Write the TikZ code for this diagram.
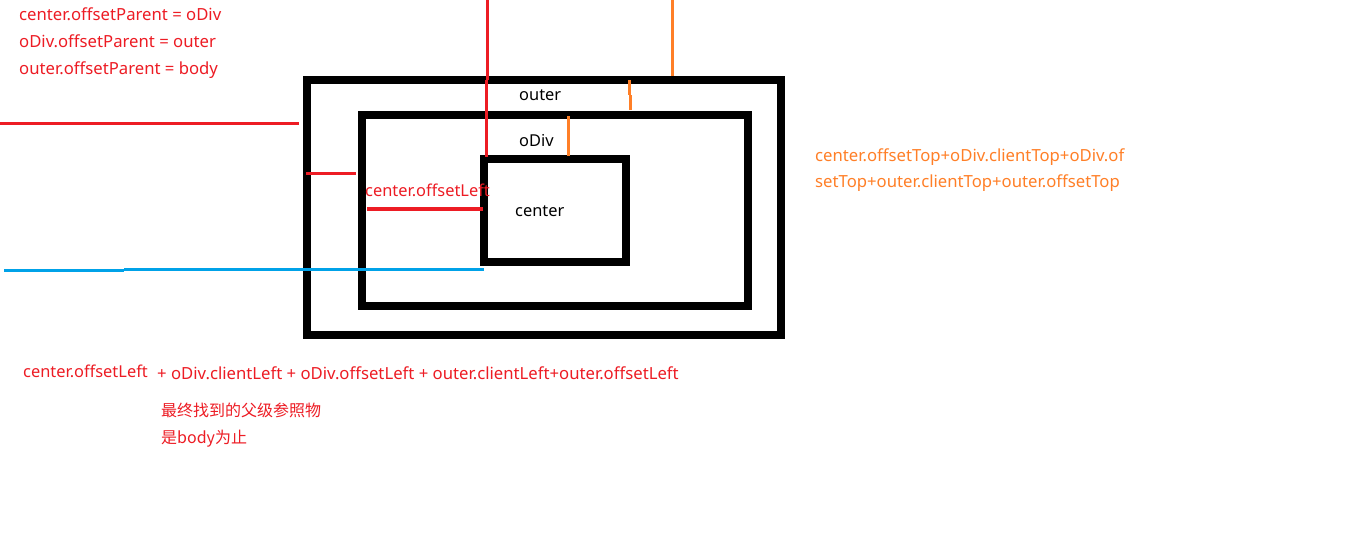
\documentclass[tikz,border=0pt]{standalone}
\usepackage{fontspec}
\setmainfont{Noto Sans}
\newfontfamily\cjk{Noto Sans CJK SC}
\definecolor{pred}{HTML}{ED1C24}
\definecolor{porange}{HTML}{FF7F27}
\definecolor{pblue}{HTML}{00A2E8}
\begin{document}
\begin{tikzpicture}[x=1pt,y=-1pt,
  box/.style={draw=black, line width=8pt, inner sep=0pt, outer sep=0pt, fill=none},
  lbl/.style={anchor=base west, inner sep=0pt, font=\fontsize{16.7}{20}\selectfont},
  slbl/.style={anchor=base west, inner sep=0pt, font=\fontsize{16.4}{20}\selectfont},
  redline/.style={draw=pred, line width=3pt},
  orline/.style={draw=porange, line width=3pt},
  blline/.style={draw=pblue, line width=3pt}]
\useasboundingbox[fill=white] (0,0) rectangle (1360,533);
% boxes
\node[box, minimum width=474pt, minimum height=254.7pt] (outer) at (544,207.3) {};
\node[box, minimum width=386pt, minimum height=190.5pt] (odiv) at (555,210.25) {};
\node[box, minimum width=142pt, minimum height=103pt] (center) at (555,210.5) {};
% box labels
\node[slbl] (louter) at (519,100) {outer};
\node[slbl] (lodiv) at (519,146.5) {oDiv};
\node[slbl] (lcenter) at (515,216.5) {center};
% top-left texts
\node[lbl, text=pred] (t1) at (19,20) {center.offsetParent = oDiv};
\node[lbl, text=pred] (t2) at (19,47) {oDiv.offsetParent = outer};
\node[lbl, text=pred] (t3) at (19,74) {outer.offsetParent = body};
% red measurement lines
\draw[redline] (0,123) -- (299,123);
\draw[redline] (487,0) -- (487,80);
\draw[redline] (486,80) -- (486,157);
\draw[redline] (306,173) -- (356,173);
\draw[draw=pred, line width=4pt] (367,209) -- (483,209);
\node[slbl, text=pred] (lleft) at (365,196.5) {center.offsetLeft};
% orange lines
\draw[orline] (672,0) -- (672,76);
\draw[orline] (629,80) -- (629,95);
\draw[orline] (630,95) -- (630,110);
\draw[orline] (568,116) -- (568,156);
% blue line
\draw[blline] (4,270) -- (124,270);
\draw[blline] (124,269) -- (484,269);
% orange text
\node[lbl, text=porange] (o1) at (815,161) {center.offsetTop+oDiv.clientTop+oDiv.of};
\node[lbl, text=porange] (o2) at (815,187) {setTop+outer.clientTop+outer.offsetTop};
% bottom texts
\node[slbl, text=pred] (b1) at (23,377) {center.offsetLeft};
\node[lbl, text=pred] (b2) at (157,379) {+ oDiv.clientLeft + oDiv.offsetLeft + outer.clientLeft+outer.offsetLeft};
\node[lbl, text=pred, font=\cjk\fontsize{16}{18}\selectfont] (c1) at (161,416) {最终找到的父级参照物};
\node[lbl, text=pred, font=\cjk\fontsize{16}{18}\selectfont] (c2) at (161,443) {是body为止};
\end{tikzpicture}
\end{document}
